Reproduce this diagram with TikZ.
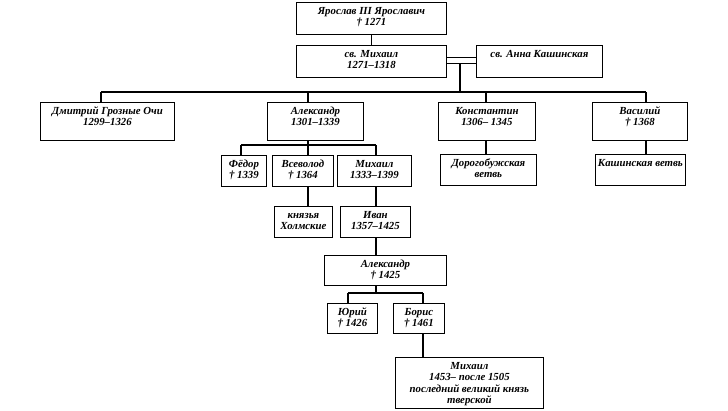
\documentclass[tikz,border=0pt]{standalone}
\usepackage{fontspec}
\setmainfont{Liberation Serif}
\newcommand\cellbox[3]{\parbox[c][#2][t]{#1}{\centering\fontsize{10.8}{11.6}\selectfont\bfseries\itshape\vspace*{4pt}\rule{0pt}{7.6pt}#3\par}}
\tikzset{
  famcell/.style={draw, line width=0.8pt, inner sep=0pt, anchor=north west},
  conn/.style={line width=1.8pt},
  wedlock/.style={line width=1pt}
}
\begin{document}
\begin{tikzpicture}[x=1pt,y=-1pt]
\useasboundingbox[fill=white] (0,0) rectangle (728,410);
% boxes
\node[famcell] (yar) at (296,2) {\cellbox{150pt}{32pt}{Ярослав III Ярославич\\† 1271}};
\node[famcell] (mich) at (296,45) {\cellbox{150pt}{32pt}{св. Михаил\\1271–1318}};
\node[famcell] (anna) at (476,45) {\cellbox{126pt}{32pt}{св. Анна Кашинская}};
\node[famcell] (dmit) at (40,102) {\cellbox{134pt}{38pt}{Дмитрий Грозные Очи\\1299–1326}};
\node[famcell] (alex) at (267,102) {\cellbox{96pt}{38pt}{Александр\\1301–1339}};
\node[famcell] (kons) at (438,102) {\cellbox{97pt}{38pt}{Константин\\1306– 1345}};
\node[famcell] (vas) at (592,102) {\cellbox{95pt}{38pt}{Василий\\† 1368}};
\node[famcell] (fed) at (221,155) {\cellbox{45pt}{31pt}{Фёдор\\† 1339}};
\node[famcell] (vsev) at (272,155) {\cellbox{61pt}{31pt}{Всеволод\\† 1364}};
\node[famcell] (mih2) at (337,155) {\cellbox{74pt}{31pt}{Михаил\\1333–1399}};
\node[famcell] (dor) at (440,154) {\cellbox{96pt}{31pt}{Дорогобужская\\ветвь}};
\node[famcell] (kash) at (595,154) {\cellbox{90pt}{31pt}{Кашинская ветвь}};
\node[famcell] (knya) at (274,206) {\cellbox{58pt}{31pt}{князья\\Холмские}};
\node[famcell] (ivan) at (340,206) {\cellbox{70pt}{31pt}{Иван\\1357–1425}};
\node[famcell] (alex2) at (324,255) {\cellbox{122pt}{30pt}{Александр\\† 1425}};
\node[famcell] (yur) at (327,303) {\cellbox{50pt}{30pt}{Юрий\\† 1426}};
\node[famcell] (bor) at (393,303) {\cellbox{51pt}{30pt}{Борис\\† 1461}};
\node[famcell] (mih3) at (395,357) {\cellbox{148pt}{51pt}{Михаил\\1453– после 1505\\последний великий князь\\тверской}};
% junctions
\coordinate (mj) at (460,63);
\coordinate (bM) at (460,92);
\coordinate (bD) at (101,92);
\coordinate (bA) at (308,92);
\coordinate (bK) at (486,92);
\coordinate (bV) at (646,92);
\coordinate (sF) at (241,145);
\coordinate (sA) at (308,145);
\coordinate (sM) at (376,145);
\coordinate (jY) at (348,293);
\coordinate (jA) at (376,293);
\coordinate (jB) at (423,293);
% connectors
\draw[conn] (yar.south) -- (mich.north);
\draw[wedlock] ([yshift=3.5pt]mich.east) -- ([yshift=3.5pt]anna.west);
\draw[wedlock] ([yshift=-2.5pt]mich.east) -- ([yshift=-2.5pt]anna.west);
\draw[conn] (mj) -- (bM);
\draw[conn] (bD) -- (bV);
\draw[conn] (bD) -- (bD |- dmit.north);
\draw[conn] (bA) -- (bA |- alex.north);
\draw[conn] (bK) -- (bK |- kons.north);
\draw[conn] (bV) -- (bV |- vas.north);
\draw[conn] (bK |- kons.south) -- (bK |- dor.north);
\draw[conn] (bV |- vas.south) -- (bV |- kash.north);
\draw[conn] (sA |- alex.south) -- (sA |- vsev.north);
\draw[conn] (sF) -- (sM);
\draw[conn] (sF) -- (sF |- fed.north);
\draw[conn] (sM) -- (sM |- mih2.north);
\draw[conn] (sA |- vsev.south) -- (sA |- knya.north);
\draw[conn] (sM |- mih2.south) -- (sM |- ivan.north);
\draw[conn] (sM |- ivan.south) -- (sM |- alex2.north);
\draw[conn] (jA |- alex2.south) -- (jA);
\draw[conn] (jY) -- (jB);
\draw[conn] (jY) -- (jY |- yur.north);
\draw[conn] (jB) -- (jB |- bor.north);
\draw[conn] (jB |- bor.south) -- (jB |- mih3.north);
\end{tikzpicture}
\end{document}
